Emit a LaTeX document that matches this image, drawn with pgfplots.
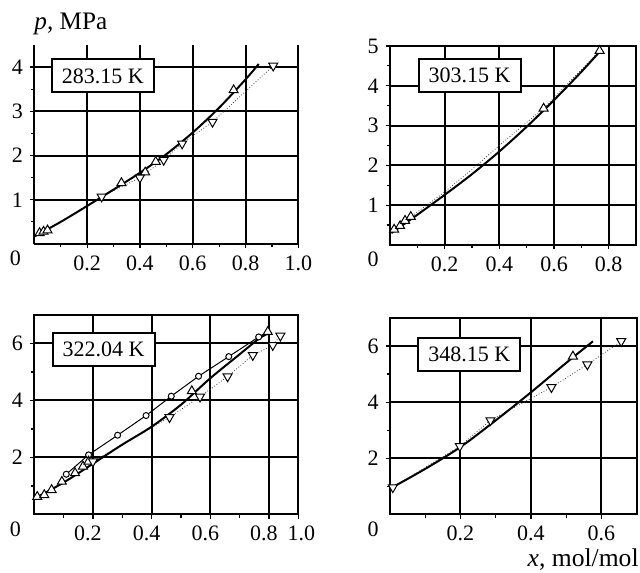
\documentclass[border=0pt]{standalone}
\usepackage{fontspec}
\setmainfont{Liberation Serif}
\usepackage{pgfplots}
\pgfplotsset{compat=1.18}

\pgfplotsset{
  panel/.style={
    scale only axis,
    xmin=0, ymin=0,
    grid=major,
    major grid style={line width=1pt, black},
    axis line style={line width=1pt},
    tick style={black, line width=0.6pt},
    tick align=outside,
    major tick length=2.2pt,
    minor tick length=1.6pt,
    tick pos=left,
    /pgf/number format/assume math mode=true,
    tick label style={font=\fontsize{11}{12}\selectfont},
    clip=false,
  },
  model/.style={line width=1pt, black, mark=none, smooth},
  thinline/.style={line width=0.4pt, black!75, densely dotted, mark=none},
  thinsolid/.style={line width=0.5pt, black, mark=none},
  up/.style={only marks, mark=triangle*, mark size=2.6pt,
    mark options={fill=white, draw=black, line width=0.5pt}},
  down/.style={only marks, mark=triangle*, mark size=2.6pt,
    mark options={rotate=180, fill=white, draw=black, line width=0.5pt}},
  circ/.style={only marks, mark=*, mark size=1.5pt,
    mark options={fill=white, draw=black, line width=0.5pt}},
}
\tikzset{
  tbox/.style={draw, line width=1pt, fill=white, inner sep=0pt,
    minimum width=51pt, minimum height=16.5pt,
    font=\fontsize{11}{12}\selectfont},
}

\begin{document}
\begin{tikzpicture}
\useasboundingbox (0,0) rectangle (320pt,286pt);

% 283.15 K
\begin{axis}[panel,
  at={(17.15pt,164pt)}, anchor=south west,
  width=132pt, height=99.5pt,
  xmax=1.0, ymax=4.5,
  axis x line*=bottom, axis y line*=left,
  xtick={0.2,0.4,0.6,0.8,1.0}, xticklabels={0.2,0.4,0.6,0.8,1.0},
  minor xtick={0.1,0.3,0.5,0.7,0.9},
  ytick={1,2,3,4}, minor ytick={0.5,1.5,2.5,3.5},
  extra x ticks={0}, extra x tick labels={0},
  extra x tick style={grid=none, major tick length=0pt, xticklabel style={xshift=-9.5pt}},
]
\addplot[thinline] coordinates {(0.255,1.07) (0.40,1.50) (0.49,1.90) (0.56,2.27) (0.675,2.76) (0.905,4.03)};
\addplot[model] coordinates {(0,0.17) (0.1,0.50) (0.2,0.86) (0.3,1.23) (0.4,1.61) (0.5,2.03) (0.6,2.52) (0.7,3.08) (0.8,3.72) (0.85,4.07)};
\addplot[up] coordinates {(0.02,0.25) (0.035,0.28) (0.05,0.31) (0.33,1.38) (0.42,1.62) (0.46,1.86) (0.755,3.48)};
\addplot[down] coordinates {(0.255,1.07) (0.40,1.50) (0.49,1.90) (0.56,2.27) (0.675,2.76) (0.905,4.03)};
\node[tbox] at (axis cs:0.26,3.8) {283.15 K};
\end{axis}

% 303.15 K
\begin{axis}[panel,
  at={(195pt,163.5pt)}, anchor=south west,
  width=123pt, height=99.5pt,
  xmax=0.9, ymax=5,
  xtick={0.2,0.4,0.6,0.8}, xticklabels={0.2,0.4,0.6,0.8},
  minor xtick={0.1,0.3,0.5,0.7},
  ytick={1,2,3,4,5}, minor ytick={0.5,1.5,2.5,3.5,4.5},
  extra x ticks={0}, extra x tick labels={0},
  extra x tick style={grid=none, major tick length=0pt, xticklabel style={xshift=-8.5pt}},
]
\addplot[thinline] coordinates {(0.015,0.39) (0.037,0.48) (0.055,0.61) (0.076,0.71) (0.2,1.33) (0.3,1.90) (0.4,2.50) (0.5,3.08) (0.562,3.43) (0.767,4.88)};
\addplot[model] coordinates {(0.005,0.30) (0.1,0.76) (0.2,1.26) (0.3,1.78) (0.4,2.35) (0.5,2.97) (0.6,3.64) (0.7,4.35) (0.77,4.88)};
\addplot[up] coordinates {(0.015,0.39) (0.037,0.48) (0.055,0.61) (0.076,0.71) (0.562,3.43) (0.767,4.88)};
\node[tbox] at (axis cs:0.291,4.25) {303.15 K};
\end{axis}

% 322.04 K
\begin{axis}[panel,
  at={(17.15pt,28.8pt)}, anchor=south west,
  width=132pt, height=99.7pt,
  xmax=0.9, ymax=7,
  xtick={0.2,0.4,0.6,0.8,0.9}, xticklabels={0.2,0.4,0.6,0.8,\hspace*{8pt}1.0},
  xticklabel style={xshift=-2.5pt},
  minor xtick={0.1,0.3,0.5,0.7},
  ytick={2,4,6}, minor ytick={1,3,5},
  extra x ticks={0}, extra x tick labels={0},
  extra x tick style={grid=none, major tick length=0pt, xticklabel style={xshift=-7pt}},
]
\addplot[thinline] coordinates {(0.2,1.86) (0.461,3.41) (0.565,4.13) (0.659,4.84) (0.745,5.59) (0.813,5.94) (0.839,6.27)};
\addplot[thinsolid] coordinates {(0.109,1.41) (0.185,2.09) (0.284,2.78) (0.381,3.47) (0.467,4.15) (0.56,4.85) (0.663,5.54) (0.765,6.23) (0.796,6.41)};
\addplot[model] coordinates {(0,0.55) (0.1,1.12) (0.2,1.78) (0.3,2.45) (0.4,3.08) (0.5,3.85) (0.6,4.78) (0.7,5.62) (0.77,6.2) (0.8,6.35)};
\addplot[circ] coordinates {(0.109,1.41) (0.185,2.09) (0.284,2.78) (0.381,3.47) (0.467,4.15) (0.56,4.85) (0.663,5.54) (0.765,6.23)};
\addplot[up] coordinates {(0.01,0.62) (0.034,0.68) (0.059,0.86) (0.094,1.15) (0.139,1.45) (0.166,1.68) (0.185,1.86) (0.537,4.33) (0.796,6.41)};
\addplot[down] coordinates {(0.2,1.86) (0.461,3.41) (0.565,4.13) (0.659,4.84) (0.745,5.59) (0.813,5.94) (0.839,6.27)};
\node[tbox] at (axis cs:0.236,5.8) {322.04 K};
\end{axis}

% 348.15 K
\begin{axis}[panel,
  at={(195pt,28.85pt)}, anchor=south west,
  width=123.35pt, height=98.15pt,
  xmax=0.7, ymax=7,
  xtick={0.2,0.4,0.6}, xticklabels={0.2,0.4,0.6},
  minor xtick={0.1,0.3,0.5},
  ytick={2,4,6}, minor ytick={1,3,5},
  extra x ticks={0}, extra x tick labels={0},
  extra x tick style={grid=none, major tick length=0pt, xticklabel style={xshift=-8.5pt}},
]
\addplot[thinline] coordinates {(0.008,0.96) (0.198,2.43) (0.285,3.35) (0.458,4.53) (0.56,5.34) (0.656,6.17)};
\addplot[model] coordinates {(0.005,0.95) (0.1,1.62) (0.2,2.40) (0.3,3.35) (0.4,4.35) (0.5,5.40) (0.576,6.17)};
\addplot[up] coordinates {(0.519,5.63)};
\addplot[down] coordinates {(0.008,0.96) (0.198,2.43) (0.285,3.35) (0.458,4.53) (0.56,5.34) (0.656,6.17)};
\node[tbox] at (axis cs:0.225,5.69) {348.15 K};
\end{axis}

\node[anchor=base west, font=\fontsize{12.6}{14}\selectfont, inner sep=0pt] at (17pt,271pt) {\textit{p}, MPa};
\node[anchor=base east, font=\fontsize{12.8}{14}\selectfont, inner sep=0pt] at (319.5pt,3pt) {\textit{x}, mol/mol};
\end{tikzpicture}
\end{document}
